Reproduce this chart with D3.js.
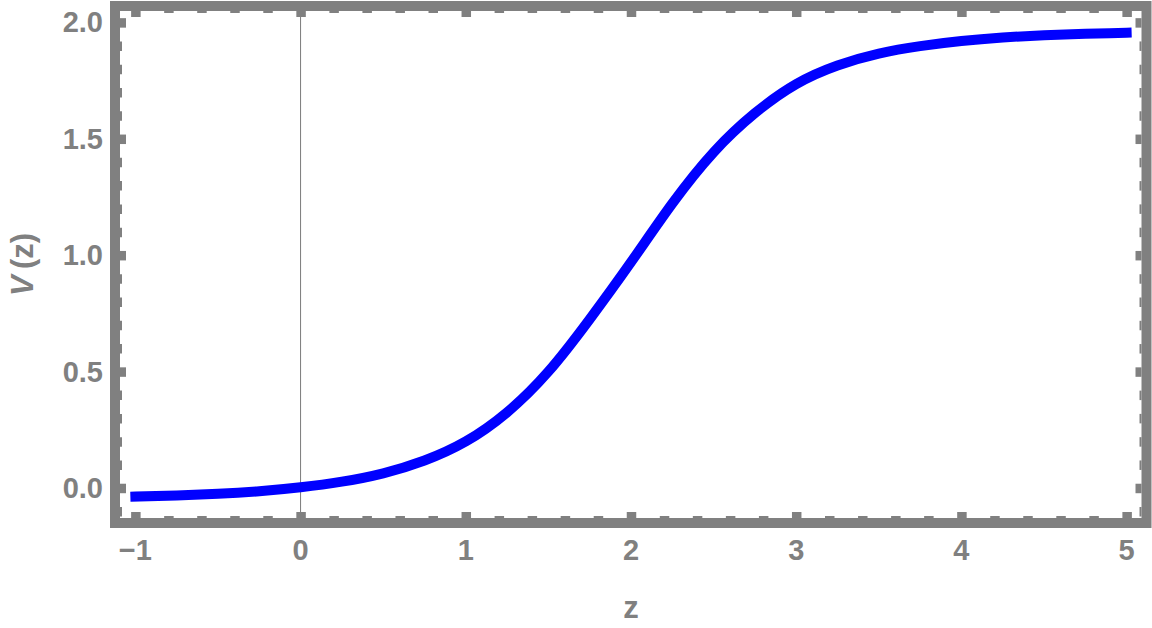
<!DOCTYPE html>
<html>
<head>
<meta charset="utf-8">
<script src="https://cdn.jsdelivr.net/npm/d3@7"></script>
<style>
  body { margin: 0; background: #fff; }
  text { font-family: "Liberation Sans", Arial, sans-serif; font-weight: bold; fill: #808080; }
</style>
</head>
<body>
<div id="viz"></div>
<script>
// values
var zValues = [-1, -0.75, -0.5, -0.25, 0, 0.25, 0.5, 0.75, 1, 1.25, 1.5, 1.75, 2,
               2.25, 2.5, 2.75, 3, 3.25, 3.5, 3.75, 4, 4.25, 4.5, 4.75, 5];
var vValues = [-0.037, -0.032, -0.025, -0.014, 0.003, 0.027, 0.063, 0.118, 0.2, 0.325, 0.5, 0.725, 0.97,
               1.222, 1.442, 1.61, 1.735, 1.815, 1.866, 1.898, 1.92, 1.935, 1.945, 1.951, 1.956];
var xTicks = [-1, 0, 1, 2, 3, 4, 5];
var yTicks = [0, 0.5, 1, 1.5, 2];
var xLabel = 'z';

var width = 1152, height = 628;
var grey = '#808080';
var inner = { left: 120, right: 1141.5, top: 11, bottom: 518 };

var x = d3.scaleLinear().domain([-1.093, 5.09]).range([inner.left, inner.right]);
var y = d3.scaleLinear().domain([-0.129, 2.049]).range([inner.bottom, inner.top]);

var xMinor = d3.range(-1, 5.001, 0.2).filter(function (d) { return Math.abs(d - Math.round(d)) > 1e-6; });
var yMinor = d3.range(-0.1, 2.001, 0.1).filter(function (d) { return Math.abs(d * 2 - Math.round(d * 2)) > 1e-6; });

var svg = d3.select('#viz').append('svg')
    .attr('width', width)
    .attr('height', height);

// zero axis
svg.append('line')
    .attr('x1', x(0)).attr('x2', x(0))
    .attr('y1', inner.top).attr('y2', inner.bottom)
    .attr('stroke', '#7a7a7a')
    .attr('stroke-width', 1);

function tickAxis(axis, tickVals, len, tx, ty) {
    var g = svg.append('g')
        .attr('transform', 'translate(' + tx + ',' + ty + ')')
        .call(axis.tickValues(tickVals).tickSizeInner(-len).tickSizeOuter(0).tickFormat(''));
    g.select('.domain').remove();
    g.selectAll('line').attr('stroke', grey).attr('stroke-width', 9.5);
}

// major and minor ticks on all four sides
tickAxis(d3.axisBottom(x), xTicks, 6, 0, inner.bottom);
tickAxis(d3.axisBottom(x), xMinor, 2, 0, inner.bottom);
tickAxis(d3.axisTop(x), xTicks, 6, 0, inner.top);
tickAxis(d3.axisTop(x), xMinor, 2, 0, inner.top);
tickAxis(d3.axisLeft(y), yTicks, 6, inner.left, 0);
tickAxis(d3.axisLeft(y), yMinor, 2, inner.left, 0);
tickAxis(d3.axisRight(y), yTicks, 6, inner.right, 0);
tickAxis(d3.axisRight(y), yMinor, 2, inner.right, 0);

// frame
svg.append('rect')
    .attr('x', inner.left - 5).attr('y', inner.top - 5)
    .attr('width', inner.right - inner.left + 10)
    .attr('height', inner.bottom - inner.top + 10)
    .attr('fill', 'none')
    .attr('stroke', grey)
    .attr('stroke-width', 10);

// tick labels
svg.selectAll('.xlab')
    .data(xTicks).enter().append('text')
    .attr('class', 'xlab')
    .attr('x', function (d) { return x(d); })
    .attr('y', 560)
    .attr('text-anchor', 'middle')
    .style('font-size', '29px')
    .text(d3.format('d'));

svg.selectAll('.ylab')
    .data(yTicks).enter().append('text')
    .attr('class', 'ylab')
    .attr('x', 103)
    .attr('y', function (d) { return y(d) + 10; })
    .attr('text-anchor', 'end')
    .style('font-size', '29px')
    .text(d3.format('.1f'));

// axis labels
svg.append('text')
    .attr('x', 631)
    .attr('y', 618)
    .attr('text-anchor', 'middle')
    .style('font-size', '31px')
    .text(xLabel);

var yl = svg.append('text')
    .attr('transform', 'translate(33,' + ((inner.top + inner.bottom) / 2) + ') rotate(-90)')
    .attr('text-anchor', 'middle')
    .style('font-size', '31px');
yl.append('tspan').style('font-style', 'italic').text('V');
yl.append('tspan').text('\u2009(z)');

// curve
var data = zValues.map(function (d, i) { return { z: d, v: vValues[i] }; });
var line = d3.line()
    .x(function (d) { return x(d.z); })
    .y(function (d) { return y(d.v); })
    .curve(d3.curveNatural);

svg.append('path')
    .datum(data)
    .attr('d', line)
    .attr('fill', 'none')
    .attr('stroke', '#0000ff')
    .attr('stroke-width', 10)
    .attr('stroke-linecap', 'square');
</script>
</body>
</html>
